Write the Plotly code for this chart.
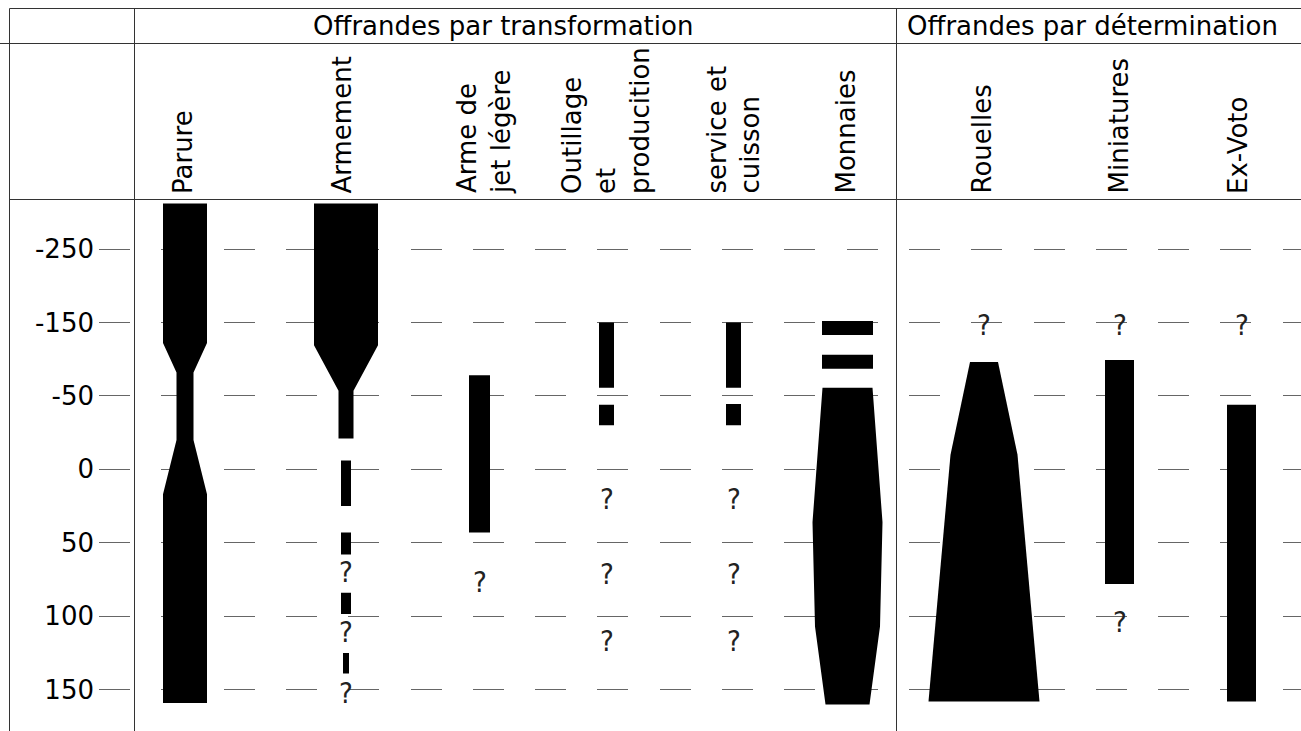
import numpy as np
import plotly.graph_objects as go

# ---------------- data ----------------
TICK_YEARS = [-250, -150, -50, 0, 50, 100, 150]
TICK_LABELS = ["-250", "-150", "-50", "0", "50", "100", "150"]

GROUPS = ["Offrandes par transformation", "Offrandes par détermination"]

CATEGORIES = [
    "Parure",
    "Armement",
    "Arme de<br>jet légère",
    "Outillage<br>et<br>producition",
    "service et<br>cuisson",
    "Monnaies",
    "Rouelles",
    "Miniatures",
    "Ex-Voto",
]

# attestation profiles: list of segments, each a list of (year, relative width)
PARURE = [[(-312, 44), (-122, 44), (-82, 17), (-20, 17), (17, 44), (159, 44)]]
ARMEMENT = [[(-312, 64), (-119, 64), (-57, 15), (-21, 15)],
            [(-6, 10), (25, 10)],
            [(43, 10), (58, 10)],
            [(84, 10), (98.5, 10)],
            [(125, 6), (139, 6)]]
ARME_JET = [[(-78, 21), (43, 21)]]
OUTILLAGE = [[(-150, 15), (-61, 15)], [(-44, 15), (-30, 15)]]
SERVICE = [[(-150, 15), (-61, 15)], [(-44.5, 15), (-30, 15)]]
MONNAIES = [[(-152, 51), (-133, 51)],
            [(-106, 51), (-87, 51)],
            [(-61, 50), (36, 70), (107, 65), (160, 44)]]
ROUELLES = [[(-96, 28), (-10, 67), (158, 111)]]
MINIATURES = [[(-99, 29), (78, 29)]]
EX_VOTO = [[(-44, 29), (158, 29)]]

PROFILES = [PARURE, ARMEMENT, ARME_JET, OUTILLAGE, SERVICE, MONNAIES,
            ROUELLES, MINIATURES, EX_VOTO]

# uncertain attestations ("?")
QUESTION_YEARS = [[], [70, 111, 152], [77], [20, 71, 117], [20, 71, 117],
                  [], [-147], [-147, 104], [-147]]

# ---------------- layout constants ----------------
W, H = 1301, 731
COL_X = [185, 346, 479.5, 606.5, 733.5, 847.5, 984, 1119.5, 1241.5]
LABEL_DX = [-2, -4, 5, 0, 0, -2, -2, -1, -3]
ROW0_PX, ROW_PX = 249.0, 73.45
GRID_X0 = 99
FONT = "DejaVu Sans, Verdana, sans-serif"


def year_to_pos(yr):
    ty = np.array(TICK_YEARS, dtype=float)
    if yr < ty[0]:
        return (yr - ty[0]) / (ty[1] - ty[0])
    if yr > ty[-1]:
        return len(ty) - 1 + (yr - ty[-1]) / (ty[-1] - ty[-2])
    return float(np.interp(yr, ty, np.arange(len(ty))))


fig = go.Figure()

for cx, segs in zip(COL_X, PROFILES):
    xs, ys = [], []
    for seg in segs:
        yrs = [p[0] for p in seg]
        ws = [p[1] for p in seg]
        left = [cx - w / 2 for w in ws]
        right = [cx + w / 2 for w in ws]
        xs += left + right[::-1] + [None]
        ys += [year_to_pos(v) for v in yrs] + [year_to_pos(v) for v in yrs[::-1]] + [None]
    fig.add_trace(go.Scatter(x=xs, y=ys, mode="lines", fill="toself",
                             fillcolor="black", line=dict(width=0, color="black"),
                             hoverinfo="skip", showlegend=False))

annotations = []
for cx, qs in zip(COL_X, QUESTION_YEARS):
    for q in qs:
        annotations.append(dict(x=cx, y=year_to_pos(q), xref="x", yref="y", text="?",
                                showarrow=False, xanchor="center", yanchor="middle",
                                font=dict(family="DejaVu Sans Condensed, DejaVu Sans", size=29, color="#222")))

for cx, dx, lab in zip(COL_X, LABEL_DX, CATEGORIES):
    annotations.append(dict(x=cx + dx, y=1 - 196 / H, xref="x", yref="paper", text=lab,
                            showarrow=False, textangle=-90, xanchor="center", yanchor="bottom",
                            align="left", font=dict(family=FONT, size=26, color="black")))

for gx, g in zip([502.5, 1092], GROUPS):
    annotations.append(dict(x=gx, y=1 - 26 / H, xref="x", yref="paper", text=g,
                            showarrow=False, xanchor="center", yanchor="middle",
                            font=dict(family=FONT, size=26, color="black")))

# table rules
LINE = dict(color="#333", width=1)
shapes = []
for (x0, y0, x1, y1) in [(9.5, 8.5, W, 8.5), (0, 43.5, W, 43.5), (9.5, 199.5, W, 199.5),
                         (9.5, 8.5, 9.5, H), (134.5, 8.5, 134.5, H), (896.5, 8.5, 896.5, H)]:
    shapes.append(dict(type="line", xref="paper", yref="paper",
                       x0=x0 / W, x1=x1 / W, y0=1 - y0 / H, y1=1 - y1 / H, line=LINE, layer="above"))

fig.update_layout(
    width=W, height=H, autosize=False,
    margin=dict(l=0, r=0, t=0, b=0, pad=0),
    paper_bgcolor="white", plot_bgcolor="white",
    showlegend=False,
    annotations=annotations,
    shapes=shapes,
    xaxis=dict(domain=[GRID_X0 / W, 1], range=[GRID_X0, W], visible=False, fixedrange=True),
    yaxis=dict(range=[(H - ROW0_PX) / ROW_PX, -ROW0_PX / ROW_PX],
               tickmode="array", tickvals=[year_to_pos(v) for v in TICK_YEARS],
               ticktext=TICK_LABELS, ticks="", showline=False, zeroline=False,
               showgrid=True, gridcolor="#666", gridwidth=1, griddash="31px,31.3px",
               tickfont=dict(family=FONT, size=26, color="black"),
               ticklabelstandoff=4, fixedrange=True),
)

fig.write_html("out.html", config={"displayModeBar": False},
               post_script="document.body.style.margin='0';document.body.style.overflow='hidden';")
